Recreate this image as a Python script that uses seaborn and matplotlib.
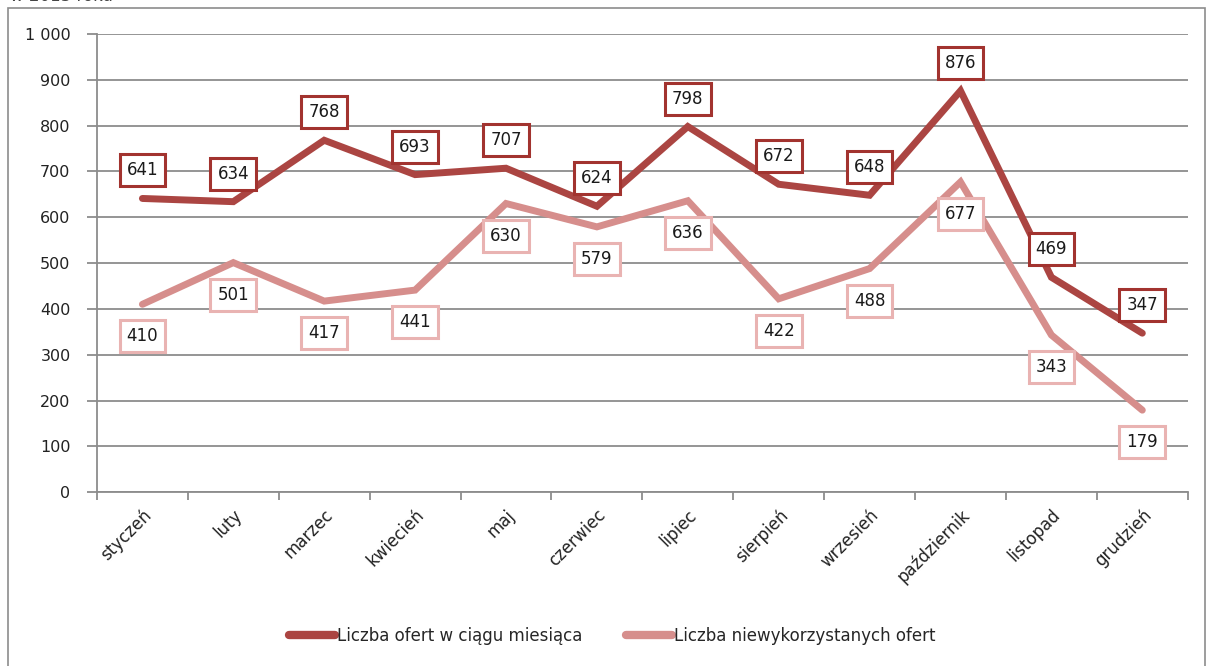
import matplotlib

matplotlib.use("Agg")
import pandas as pd
import seaborn as sns
from matplotlib import pyplot as plt
from matplotlib.patches import Rectangle
from matplotlib.ticker import FuncFormatter, MultipleLocator

months = ["styczeń", "luty", "marzec", "kwiecień", "maj", "czerwiec",
          "lipiec", "sierpień", "wrzesień", "październik", "listopad", "grudzień"]
offers = [641, 634, 768, 693, 707, 624, 798, 672, 648, 876, 469, 347]
unused = [410, 501, 417, 441, 630, 579, 636, 422, 488, 677, 343, 179]
series = ["Liczba ofert w ciągu miesiąca", "Liczba niewykorzystanych ofert"]

line_colors = ["#AB4542", "#D68E8C"]
box_colors = ["#A2332F", "#E9B3B2"]
grey = "#8C8C8C"

df = pd.concat([
    pd.DataFrame({"miesiac": months, "wartosc": offers, "seria": series[0]}),
    pd.DataFrame({"miesiac": months, "wartosc": unused, "seria": series[1]}),
])

sns.set_style("white")
plt.rcParams["font.family"] = ["DejaVu Sans"]

fig = plt.figure(figsize=(12.12, 6.66), dpi=100)
ax = fig.add_axes([0.080, 0.261, 0.900, 0.688])

sns.lineplot(data=df, x="miesiac", y="wartosc", hue="seria", palette=line_colors,
             linewidth=5, sort=False, ax=ax, legend=True)
for ln in ax.get_lines():
    ln.set_solid_joinstyle("miter")

# data labels: first series above, second below
for vals, col, dy in [(offers, box_colors[0], 28), (unused, box_colors[1], -32)]:
    for i, v in enumerate(vals):
        ax.annotate(str(v), (i, v), xytext=(0, dy), textcoords="offset pixels",
                    ha="center", va="center", fontsize=12, color="#1a1a1a",
                    bbox=dict(boxstyle="square,pad=0.42", fc="white", ec=col, lw=2.2),
                    zorder=5)

ax.set_xlim(-0.5, len(months) - 0.5)
ax.set_ylim(0, 1000)
ax.yaxis.set_major_locator(MultipleLocator(100))
ax.yaxis.set_major_formatter(FuncFormatter(lambda v, p: f"{int(v):,}".replace(",", " ")))
ax.grid(axis="y", color=grey, lw=1.3)
ax.set_axisbelow(True)
ax.set_xlabel("")
ax.set_ylabel("")

ax.set_xticks(range(len(months)))
ax.set_xticklabels(months, rotation=45, ha="right", rotation_mode="anchor", fontsize=12)
ax.set_xticks([i - 0.5 for i in range(len(months) + 1)], minor=True)
ax.tick_params(axis="x", which="major", length=0, pad=10, colors="#222222")
ax.tick_params(axis="x", which="minor", length=6, width=1.3, color=grey, bottom=True)
ax.tick_params(axis="y", length=7, width=1.3, color=grey, labelsize=11.5,
               labelcolor="#222222", pad=12, left=True)

for side in ["top", "right"]:
    ax.spines[side].set_visible(False)
for side in ["left", "bottom"]:
    ax.spines[side].set_color(grey)
    ax.spines[side].set_linewidth(1.3)

handles, labels = ax.get_legend_handles_labels()
ax.legend(handles, labels, loc="center", bbox_to_anchor=(0.505, 0.045),
          bbox_transform=fig.transFigure, ncol=2, frameon=False, fontsize=12,
          handlelength=2.8, handletextpad=0.1, columnspacing=2.6)
for h in ax.get_legend().get_lines():
    h.set_linewidth(6)
    h.set_solid_capstyle("round")

fig.patches.append(Rectangle((8 / 1212, -0.02), 1197 / 1212, 1.02 - 8 / 666,
                             transform=fig.transFigure, fill=False, ec=grey, lw=1.2))
fig.text(10 / 1212, 1 + 4 / 666, "w 2013 roku", fontsize=12, color="#444444",
         va="center", ha="left")

fig.savefig("out.png", dpi=100)
